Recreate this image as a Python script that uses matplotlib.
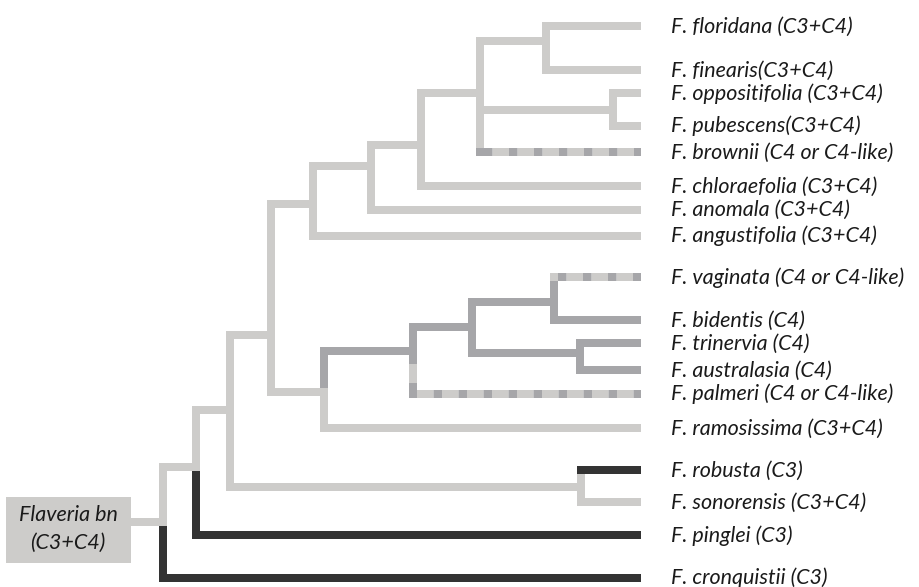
import matplotlib
matplotlib.use("Agg")
import matplotlib.pyplot as plt
from matplotlib.patches import Rectangle

plt.rcParams['lines.scale_dashes'] = False

# ---------------- data ----------------
leaf_names = ["floridana", "finearis", "oppositifolia", "pubescens", "brownii",
              "chloraefolia", "anomala", "angustifolia", "vaginata", "bidentis",
              "trinervia", "australasia", "palmeri", "ramosissima", "robusta",
              "sonorensis", "pinglei", "cronquistii"]
leaf_labels = ["F. floridana (C3+C4)", "F. finearis(C3+C4)", "F. oppositifolia (C3+C4)",
               "F. pubescens(C3+C4)", "F. brownii (C4 or C4-like)", "F. chloraefolia (C3+C4)",
               "F. anomala (C3+C4)", "F. angustifolia (C3+C4)", "F. vaginata (C4 or C4-like)",
               "F. bidentis (C4)", "F. trinervia (C4)", "F. australasia (C4)",
               "F. palmeri (C4 or C4-like)", "F. ramosissima (C3+C4)", "F. robusta (C3)",
               "F. sonorensis (C3+C4)", "F. pinglei (C3)", "F. cronquistii (C3)"]
leaf_y = [26, 70, 93, 126, 152, 186, 209.5, 235.5, 277, 320, 343, 370, 394, 428,
          470, 502, 535, 578]
leaf_x_end = 641

node_names = ["root", "A", "B", "C", "F", "G", "H", "I", "J", "K",
              "C4", "D", "E", "VB", "TA", "RS"]
node_x = [163, 196, 230, 271, 313, 371, 421, 480, 546, 613,
          324, 413, 472, 554.5, 580.5, 581]
node_y = [522, 467, 410, 335, 204, 166, 144.5, 93, 41, 110,
          392, 351, 327, 302, 353, 487]
node_children = [["A", "cronquistii"], ["B", "pinglei"], ["C", "RS"], ["F", "C4"],
                 ["G", "angustifolia"], ["H", "anomala"], ["I", "chloraefolia"],
                 ["J", "K", "brownii"], ["floridana", "finearis"],
                 ["oppositifolia", "pubescens"], ["D", "ramosissima"], ["E", "palmeri"],
                 ["VB", "TA"], ["vaginata", "bidentis"], ["trinervia", "australasia"],
                 ["robusta", "sonorensis"]]

# photosynthesis type per branch: horizontal / vertical
branch_h_type = {"cronquistii": "C3", "pinglei": "C3", "robusta": "C3",
                 "D": "C4", "E": "C4", "VB": "C4", "TA": "C4", "bidentis": "C4",
                 "trinervia": "C4", "australasia": "C4",
                 "vaginata": "mixed", "palmeri": "mixed", "brownii": "mixed"}
branch_v_type = {"cronquistii": "C3", "pinglei": "C3",
                 "D": "C4", "E": "C4", "VB": "C4", "TA": "C4", "bidentis": "C4",
                 "trinervia": "C4", "australasia": "C4", "vaginata": "C4",
                 "palmeri": "mixed"}
corner_type = {"brownii": "C4", "vaginata": "C3+C4", "palmeri": "C4"}
dash_offset = {"brownii": 0.0, "vaginata": 0.0, "palmeri": 8.5}

root_label = "Flaveria bn\n(C3+C4)"

# ---------------- style ----------------
LIGHT = "#CDCCCA"
GRAY = "#A6A6A9"
DARK = "#333333"
colors = {"C3+C4": LIGHT, "C4": GRAY, "C3": DARK}
zorders = {"C3+C4": 1, "C4": 2, "C3": 3, "mixed": 4}
PX = 0.72
LW = 8 * PX
HW = 4
DASH_ON, DASH_OFF = 8.5, 16.5
FONT = ["Lato", "DejaVu Sans"]
FS = 15.5

fig = plt.figure(figsize=(9.2, 5.87), dpi=100)
ax = fig.add_axes([0, 0, 1, 1])
ax.set_xlim(0, 920)
ax.set_ylim(587, 0)
ax.axis("off")

pos = {}
for n, y in zip(leaf_names, leaf_y):
    pos[n] = (leaf_x_end, y, True)
for n, x, y in zip(node_names, node_x, node_y):
    pos[n] = (x, y, False)

for n, x, y, kids in zip(node_names, node_x, node_y, node_children):
    for c in kids:
        cx, cy, is_leaf = pos[c]
        ht = branch_h_type.get(c, "C3+C4")
        vt = branch_v_type.get(c, "C3+C4")
        s = 1 if cy > y else -1
        # vertical
        if vt == "mixed":
            ax.plot([x, x], [y + s * HW, cy - s * HW], color=GRAY, lw=LW,
                    solid_capstyle="butt", dash_capstyle="butt",
                    linestyle=(0, (9 * PX, 19 * PX)), gapcolor=LIGHT, zorder=4)
        else:
            ax.plot([x, x], [y + s * HW, cy + s * HW], color=colors[vt], lw=LW,
                    solid_capstyle="butt", zorder=zorders[vt])
        # horizontal
        x_end = cx if is_leaf else cx + HW
        if ht == "mixed":
            ax.plot([x - HW, x + HW], [cy, cy], color=colors[corner_type[c]], lw=LW,
                    solid_capstyle="butt", zorder=5)
            ax.plot([x + HW, x_end], [cy, cy], color=GRAY, lw=LW,
                    dash_capstyle="butt",
                    linestyle=(dash_offset[c] * PX, (DASH_ON * PX, DASH_OFF * PX)),
                    gapcolor=LIGHT, zorder=4)
        else:
            ax.plot([x - HW, x_end], [cy, cy], color=colors[ht], lw=LW,
                    solid_capstyle="butt", zorder=zorders[ht] + 0.5)

# root stem and box
rx, ry = node_x[0], node_y[0]
ax.plot([131, rx + HW], [ry, ry], color=LIGHT, lw=LW, solid_capstyle="butt", zorder=1)
ax.add_patch(Rectangle((6, 497), 125, 66, facecolor=LIGHT, edgecolor="none", zorder=1))
ax.text(68, 521, root_label.split("\n")[0], ha="center", va="baseline", fontsize=FS,
        style="italic", family=FONT, color="#1a1a1a", zorder=6)
ax.text(68, 549, root_label.split("\n")[1], ha="center", va="baseline", fontsize=FS,
        style="italic", family=FONT, color="#1a1a1a", zorder=6)

cap_px = 0.72 * FS / 0.72 * 0.72  # approx cap height in px for Lato
for lab, y in zip(leaf_labels, leaf_y):
    ax.text(671, y - 1 + 7.5, lab, ha="left", va="baseline", fontsize=FS, style="italic",
            family=FONT, color="#1a1a1a")

fig.savefig("out.png", dpi=100)
